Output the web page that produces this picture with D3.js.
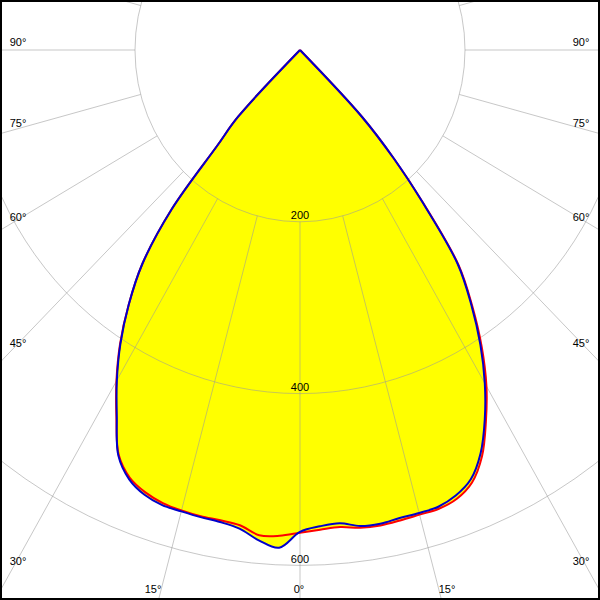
<!DOCTYPE html>
<html><head><meta charset="utf-8">
<script src="https://cdn.jsdelivr.net/npm/d3@7"></script>
<style>html,body{margin:0;padding:0;background:#fff;}svg{display:block;}</style>
</head><body><div id="chart"></div>
<script>
// gamma angles (degrees from nadir) and luminous intensities (cd/klm)
const gammas = [0, 2.5, 5, 7.5, 10, 12.5, 15, 17.5, 20, 22.5, 25, 27.5, 30, 32.5, 35, 37.5, 40, 42, 44, 90, 180];
const intensityC0   = [562, 559, 557.5, 561, 562, 561, 560, 560, 556, 545, 522, 488, 452, 410, 364, 316, 232, 170, 108, 0, 0]; // red, right
const intensityC180 = [562, 566, 567, 558, 556, 556, 555, 553, 548, 539, 520, 482, 445, 406, 362, 314, 242, 150, 108, 0, 0]; // red, left
const intensityC90  = [561, 555, 553, 559, 560, 558, 558, 557.5, 552, 541, 518, 485, 448, 407, 362, 314, 230, 170, 108, 0, 0]; // blue, right
const intensityC270 = [561, 580, 573, 562, 558, 557, 556, 555.5, 551, 541, 521, 481, 444, 405, 362, 314, 242, 150, 108, 0, 0]; // blue, left

const ringValues = [200, 400, 600];
const ringLabels = ["200", "400", "600"];
const spokeAngles = [0, 15, 30, 45, 60, 75, 90, 105, 120, 135, 150, 165, 180];
const angleLabelValues = [0, 15, 30, 45, 60, 75, 90];
const angleLabelTexts = ["0°", "15°", "30°", "45°", "60°", "75°", "90°"];

const W = 600, H = 600, cx = 300, cy = 50;
const rx = d3.scaleLinear().domain([0, 200]).range([0, 165]);
const ry = d3.scaleLinear().domain([0, 200]).range([0, 171.8]);
const rad = d => d * Math.PI / 180;
const pt = (side, g, I) => [cx + side * rx(I * Math.sin(rad(g))), cy + ry(I * Math.cos(rad(g)))];

const svg = d3.select("#chart").append("svg").attr("width", W).attr("height", H);
svg.append("defs").append("clipPath").attr("id", "clip").append("rect")
  .attr("x", 0).attr("y", 0).attr("width", W).attr("height", H);
svg.append("rect").attr("width", W).attr("height", H).attr("fill", "#fff");
const g = svg.append("g").attr("clip-path", "url(#clip)");

function curvePoints(leftVals, rightVals) {
  const pts = [[cx, cy]];
  for (let i = gammas.length - 1; i >= 0; i--) if (leftVals[i] > 0) pts.push(pt(-1, gammas[i], leftVals[i]));
  for (let i = 1; i < gammas.length; i++) if (rightVals[i] > 0) pts.push(pt(1, gammas[i], rightVals[i]));
  pts.push([cx, cy]);
  return pts;
}
const line = d3.line().curve(d3.curveCatmullRom.alpha(0.5));
const redPts = curvePoints(intensityC180, intensityC0);
const bluePts = curvePoints(intensityC270, intensityC90);

// fill (union)
g.append("path").attr("d", line(redPts) + "Z").attr("fill", "#ffff00").attr("stroke", "none");
g.append("path").attr("d", line(bluePts) + "Z").attr("fill", "#ffff00").attr("stroke", "none");

// grid
const grid = g.append("g").attr("stroke", "#999").attr("stroke-opacity", 0.55).attr("fill", "none").attr("stroke-width", 1);
ringValues.forEach(v => {
  grid.append("ellipse").attr("cx", cx).attr("cy", cy).attr("rx", rx(v)).attr("ry", ry(v));
});
spokeAngles.forEach(a => {
  const sides = (a === 0 || a === 180) ? [1] : [-1, 1];
  sides.forEach(s => {
    const p0 = pt(s, a, ringValues[0]), p1 = pt(s, a, 1200);
    grid.append("line").attr("x1", p0[0]).attr("y1", p0[1]).attr("x2", p1[0]).attr("y2", p1[1]);
  });
});

// curves
g.append("path").attr("d", line(redPts)).attr("fill", "none").attr("stroke", "#ff0000").attr("stroke-width", 2).attr("stroke-linejoin", "round");
g.append("path").attr("d", line(bluePts)).attr("fill", "none").attr("stroke", "#0000cc").attr("stroke-width", 2).attr("stroke-linejoin", "round");

// labels
const font = "'Liberation Sans', Arial, sans-serif";
const txt = g.append("g").attr("font-family", font).attr("font-size", 11).attr("fill", "#000");
ringValues.forEach((v, i) => {
  txt.append("text").attr("x", cx).attr("y", cy + ry(v) - 2.5).attr("text-anchor", "middle").text(ringLabels[i]);
});
const sideX = 18, bottomY = 589;
angleLabelValues.forEach((a, i) => {
  // where does the spoke hit the bottom band?
  const v = ry.invert(bottomY - cy);
  const u = v * Math.tan(rad(a));
  const bx = rx(u);
  if (cx - bx > 30) {
    if (a === 0) {
      txt.append("text").attr("x", cx - 1).attr("y", 593).attr("text-anchor", "middle").text(angleLabelTexts[i]);
    } else {
      txt.append("text").attr("x", cx - bx).attr("y", 593).attr("text-anchor", "end").text(angleLabelTexts[i]);
      txt.append("text").attr("x", cx + bx).attr("y", 593).attr("text-anchor", "start").text(angleLabelTexts[i]);
    }
  } else {
    const uu = rx.invert(cx - sideX);
    const vv = a === 90 ? 0 : uu / Math.tan(rad(a));
    const sy = cy + ry(vv);
    const base = sy + 6 - (a - 30) / 6;
    txt.append("text").attr("x", sideX).attr("y", base).attr("text-anchor", "middle").text(angleLabelTexts[i]);
    txt.append("text").attr("x", W - sideX - 1).attr("y", base).attr("text-anchor", "middle").text(angleLabelTexts[i]);
  }
});

// frame
svg.append("rect").attr("x", 1).attr("y", 1).attr("width", W - 2).attr("height", H - 2)
  .attr("fill", "none").attr("stroke", "#000").attr("stroke-width", 2);
</script>
</body></html>
